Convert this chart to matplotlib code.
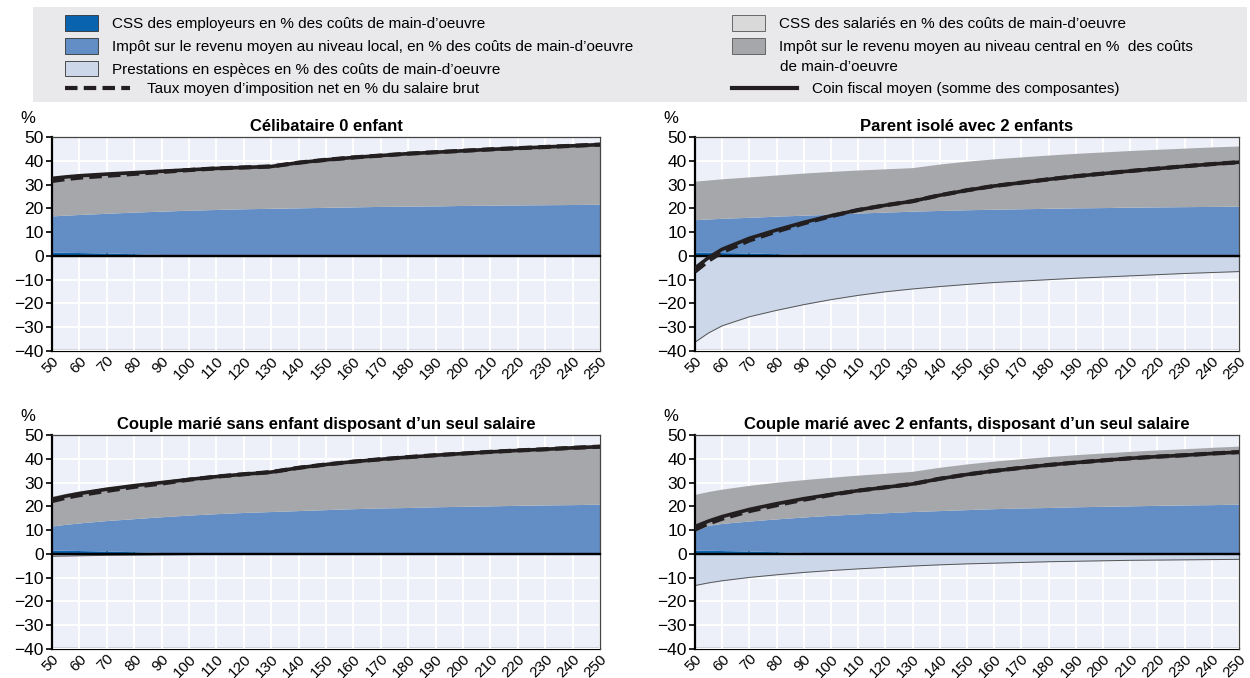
import numpy as np
import matplotlib
matplotlib.use("Agg")
import matplotlib.pyplot as plt
from matplotlib.patches import Patch, Rectangle
from matplotlib.lines import Line2D

# ---- données ----
SALAIRE = [50, 55, 60, 70, 80, 90, 100, 110, 120, 130, 140, 150, 160, 170, 180,
           190, 200, 210, 220, 230, 240, 250]
XTICKS = list(range(50, 251, 10))

CSS_EMPLOYEURS = [1.4, 1.3, 1.2, 1.0, 0.7, 0.4, 0.1, 0, 0, 0, 0, 0, 0, 0, 0, 0, 0, 0, 0, 0, 0, 0]
CSS_SALARIES = [0] * 22

# Célibataire 0 enfant
LOCAL_1 = [15.2, 15.6, 16.0, 16.7, 17.5, 18.2, 18.9, 19.3, 19.6, 19.8, 20.0, 20.2, 20.4, 20.6,
           20.7, 20.8, 21.0, 21.1, 21.2, 21.3, 21.4, 21.5]
CENTRAL_1 = [16.0, 16.3, 16.5, 16.7, 16.8, 17.0, 17.2, 17.5, 17.6, 17.8, 19.2, 20.2, 21.0, 21.6,
             22.3, 22.8, 23.2, 23.7, 24.1, 24.5, 24.9, 25.3]
PRESTATIONS_1 = [0] * 22
NET_1 = [31.5, 32.3, 32.9, 33.7, 34.5, 35.3, 36.1, 36.8, 37.2, 37.6, 39.2, 40.4, 41.4, 42.2,
         43.0, 43.6, 44.2, 44.8, 45.3, 45.8, 46.3, 46.8]

# Parent isolé avec 2 enfants
LOCAL_2 = [13.6, 14.0, 14.4, 15.0, 15.8, 16.5, 17.2, 17.8, 18.2, 18.6, 18.9, 19.2, 19.4, 19.6,
           19.8, 20.0, 20.1, 20.3, 20.4, 20.5, 20.6, 20.7]
CENTRAL_2 = [16.2, 16.4, 16.6, 17.0, 17.3, 17.7, 18.0, 18.1, 18.2, 18.3, 19.5, 20.4, 21.2, 21.8,
             22.4, 22.9, 23.4, 23.8, 24.2, 24.6, 25.0, 25.3]
PRESTATIONS_2 = [-36.3, -32.4, -29.4, -25.6, -22.9, -20.5, -18.4, -16.6, -15.1, -13.9, -12.9,
                 -12.0, -11.2, -10.6, -10.0, -9.4, -8.9, -8.4, -7.9, -7.4, -7.0, -6.6]
NET_2 = [-6.6, -2.0, 1.6, 6.5, 10.3, 13.7, 16.7, 19.3, 21.3, 23.0, 25.5, 27.6, 29.4, 30.8,
         32.2, 33.5, 34.6, 35.7, 36.7, 37.7, 38.6, 39.4]

# Couple marié sans enfant, un seul salaire
LOCAL_3 = [10.1, 10.9, 11.6, 12.8, 13.9, 15.0, 16.0, 16.7, 17.2, 17.6, 18.0, 18.4, 18.8, 19.1,
           19.3, 19.6, 19.8, 20.0, 20.2, 20.4, 20.5, 20.7]
CENTRAL_3 = [12.5, 13.0, 13.4, 14.0, 14.6, 15.0, 15.5, 16.0, 16.4, 16.8, 18.2, 19.2, 20.0, 20.7,
             21.4, 21.9, 22.4, 22.9, 23.3, 23.6, 24.1, 24.4]
PRESTATIONS_3 = [-1.0, -0.9, -0.8, -0.6, -0.5, -0.4, -0.3, -0.2, -0.1, 0, 0, 0, 0, 0, 0, 0, 0,
                 0, 0, 0, 0, 0]
NET_3 = [22.2, 23.6, 24.7, 26.5, 28.2, 29.6, 31.2, 32.5, 33.5, 34.4, 36.2, 37.6, 38.8, 39.8,
         40.7, 41.5, 42.2, 42.9, 43.5, 44.0, 44.6, 45.1]

# Couple marié avec 2 enfants, un seul salaire
LOCAL_4 = [7.9, 10.5, 11.4, 12.6, 13.8, 14.9, 15.9, 16.6, 17.1, 17.6, 18.0, 18.4, 18.8, 19.1,
           19.3, 19.6, 19.8, 20.0, 20.2, 20.4, 20.5, 20.7]
CENTRAL_4 = [15.5, 14.2, 14.4, 15.0, 15.4, 15.7, 16.0, 16.3, 16.6, 16.9, 18.2, 19.2, 20.0, 20.7,
             21.4, 21.9, 22.4, 22.9, 23.3, 23.6, 24.1, 24.4]
PRESTATIONS_4 = [-13.3, -12.2, -11.3, -9.9, -8.8, -7.8, -7.0, -6.3, -5.7, -5.1, -4.6, -4.2, -3.9,
                 -3.6, -3.3, -3.1, -2.9, -2.7, -2.6, -2.5, -2.4, -2.3]
NET_4 = [10.2, 12.8, 14.8, 18.0, 20.5, 22.8, 24.8, 26.6, 28.0, 29.4, 31.6, 33.4, 34.9, 36.2,
         37.4, 38.4, 39.3, 40.2, 40.9, 41.5, 42.2, 42.8]

TITRES = ["Célibataire 0 enfant", "Parent isolé avec 2 enfants",
          "Couple marié sans enfant disposant d’un seul salaire",
          "Couple marié avec 2 enfants, disposant d’un seul salaire"]

LABELS_GAUCHE = ["CSS des employeurs en % des coûts de main-d’oeuvre",
                 "Impôt sur le revenu moyen au niveau local, en % des coûts de main-d’oeuvre",
                 "Prestations en espèces en % des coûts de main-d’oeuvre"]
LABEL_NET = "Taux moyen d’imposition net en % du salaire brut"
LABELS_DROITE = ["CSS des salariés en % des coûts de main-d’oeuvre",
                 "Impôt sur le revenu moyen au niveau central en %  des coûts"]
LABEL_DROITE_SUITE = "de main-d’oeuvre"
LABEL_COIN = "Coin fiscal moyen (somme des composantes)"

# ---- style ----
C_EMPL = "#0A63AE"
C_SAL = "#D9D9DA"
C_LOCAL = "#638EC5"
C_CENTRAL = "#A6A7AB"
C_PREST = "#CCD7EA"
C_LIGNE = "#231F20"
C_FOND = "#EDF0F8"

plt.rcParams["font.family"] = ["Liberation Sans Narrow", "Liberation Sans", "DejaVu Sans"]
plt.rcParams["font.size"] = 12

W, H = 1250, 678
fig = plt.figure(figsize=(W / 100, H / 100), dpi=100)


def px_axes(x0, x1, ytop, ybot):
    return fig.add_axes([x0 / W, 1 - ybot / H, (x1 - x0) / W, (ybot - ytop) / H])


positions = [(52, 600, 137, 351), (695, 1239, 137, 351),
             (52, 600, 435, 649), (695, 1239, 435, 649)]
panels = [(LOCAL_1, CENTRAL_1, PRESTATIONS_1, NET_1),
          (LOCAL_2, CENTRAL_2, PRESTATIONS_2, NET_2),
          (LOCAL_3, CENTRAL_3, PRESTATIONS_3, NET_3),
          (LOCAL_4, CENTRAL_4, PRESTATIONS_4, NET_4)]

x = np.array(SALAIRE)
for pos, (loc, cen, prest, net), titre in zip(positions, panels, TITRES):
    ax = px_axes(*pos)
    ax.set_facecolor(C_FOND)
    ax.set_axisbelow(True)
    ax.grid(True, color="white", lw=1.4)

    ax.stackplot(x, CSS_EMPLOYEURS, CSS_SALARIES, loc, cen,
                 colors=[C_EMPL, C_SAL, C_LOCAL, C_CENTRAL], lw=0, zorder=2)
    ax.fill_between(x, 0, prest, color=C_PREST, lw=0, zorder=2)
    ax.plot(x, prest, color="#555555", lw=0.7, zorder=2.5)
    ax.axhline(0, color="black", lw=1.6, zorder=3)

    coin = (np.array(CSS_EMPLOYEURS) + np.array(CSS_SALARIES) + np.array(loc)
            + np.array(cen) + np.array(prest))
    ax.plot(x, net, color=C_LIGNE, lw=3, ls=(0, (3, 1.5)), zorder=4)
    ax.plot(x, coin, color=C_LIGNE, lw=2.6, zorder=5)

    ax.set_xlim(50, 250)
    ax.set_ylim(-40, 50)
    ax.set_yticks(range(-40, 51, 10))
    ax.set_xticks(XTICKS)
    ax.tick_params(axis="y", direction="out", length=4, width=1.2, labelsize=12.5, pad=2)

    # axe des x au niveau 0 (graduations vers le haut), étiquettes en bas
    ax.spines["bottom"].set_position(("data", 0))
    ax.spines["bottom"].set_linewidth(1.6)
    ax.tick_params(axis="x", direction="in", length=4, width=1.2, labelbottom=False)
    sec = ax.secondary_xaxis(0)
    sec.set_xticks(XTICKS)
    sec.tick_params(length=0, labelsize=11, pad=2)
    sec.spines["bottom"].set_linewidth(1.6)
    for lab in sec.get_xticklabels():
        lab.set_rotation(45)
        lab.set_ha("right")
        lab.set_va("top")
        lab.set_rotation_mode("anchor")

    ax.spines["left"].set_linewidth(1.6)
    for s in ("top", "right"):
        ax.spines[s].set_color("#444444")
        ax.spines[s].set_linewidth(0.9)

    ax.set_title(titre, fontsize=12, fontweight="bold", pad=4)
    ax.text(-0.045, 1.085, "%", transform=ax.transAxes, ha="center", va="center", fontsize=12)

# ---- légende ----
fig.patches.append(Rectangle((33 / W, 1 - 102 / H), (1247 - 33) / W, 95 / H,
                             transform=fig.transFigure, facecolor="#E9E9EB",
                             edgecolor="none", zorder=0))

hg = [Patch(facecolor=C_EMPL, edgecolor="#333333", lw=0.6),
      Patch(facecolor=C_LOCAL, edgecolor="#333333", lw=0.6),
      Patch(facecolor=C_PREST, edgecolor="#333333", lw=0.6)]
hd = [Patch(facecolor=C_SAL, edgecolor="#555555", lw=0.6),
      Patch(facecolor=C_CENTRAL, edgecolor="#555555", lw=0.6)]

leg_kw = dict(frameon=False, borderpad=0, borderaxespad=0, fontsize=11,
              labelspacing=0.45, loc="upper left")
fig.legend(hg, LABELS_GAUCHE, bbox_to_anchor=(65 / W, 1 - 15 / H),
           handlelength=2.15, handleheight=1.2, handletextpad=0.95, **leg_kw)
fig.legend([Line2D([], [], color=C_LIGNE, lw=3, ls=(0, (3, 1.5)))], [LABEL_NET],
           bbox_to_anchor=(65 / W, 1 - 82 / H), handlelength=4.25, handletextpad=1.1, **leg_kw)
fig.legend(hd, LABELS_DROITE, bbox_to_anchor=(732 / W, 1 - 15 / H),
           handlelength=2.15, handleheight=1.2, handletextpad=0.95, **leg_kw)
fig.legend([Line2D([], [], color=C_LIGNE, lw=3)], [LABEL_COIN],
           bbox_to_anchor=(732 / W, 1 - 82 / H), handlelength=4.25, handletextpad=1.0, **leg_kw)
fig.text(780 / W, 1 - 67 / H, LABEL_DROITE_SUITE, fontsize=11, ha="left", va="center")

fig.savefig("out.png", dpi=100)
